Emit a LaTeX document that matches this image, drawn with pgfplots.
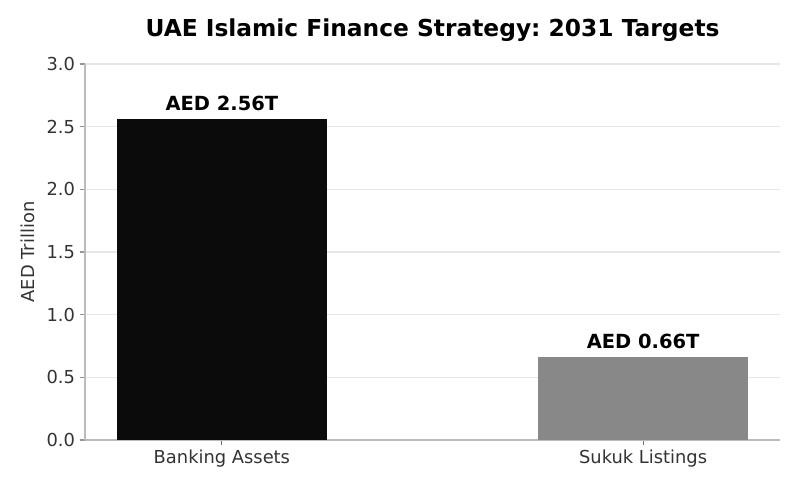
\documentclass[border=0pt]{standalone}
\usepackage{pgfplots}
\pgfplotsset{compat=1.18}
\usepackage{fontspec}
\setmainfont{DejaVu Sans}
\frenchspacing
\definecolor{barA}{HTML}{0B0B0B}
\definecolor{barB}{HTML}{888888}
\definecolor{spine}{HTML}{BBBBBB}
\definecolor{gridc}{HTML}{E6E6E6}
\definecolor{txt}{HTML}{333333}
\begin{document}
\begin{tikzpicture}[x=0.75pt,y=0.75pt]
\path[use as bounding box] (0,0) rectangle (800,490);
\begin{axis}[
    at={(63.75pt,37.5pt)}, anchor=south west,
    scale only axis, width=521.25pt, height=282pt,
    ybar, bar width=0.5, bar shift=0pt,
    xmin=-0.325, xmax=1.325, ymin=0, ymax=3.0,
    xtick={0,1}, xticklabels={Banking Assets, Sukuk Listings},
    ytick={0,0.5,...,3.0},
    yticklabel style={/pgf/number format/.cd, fixed, fixed zerofill, precision=1},
    /pgf/number format/assume math mode=true,
    ticklabel style={font=\fontsize{13.4}{15}\selectfont, text=txt},
    axis x line*=bottom, axis y line*=left,
    axis line style={spine, line width=0.8pt},
    tick style={color=spine!80!black, line width=0.8pt},
    tick align=outside, major tick length=4pt,
    xtick style={draw=txt!70},
    ymajorgrids, grid style={gridc, line width=0.8pt},
    ylabel={AED Trillion},
    ylabel style={font=\fontsize{13.4}{15}\selectfont, text=txt, yshift=2pt},
    title={\bfseries UAE Islamic Finance Strategy: 2031 Targets},
    title style={font=\fontsize{17.5}{20}\selectfont, yshift=7pt},
    nodes near coords style={font=\fontsize{14.6}{17}\selectfont\bfseries, text=black},
    clip=false,
]
\addplot[fill=barA, draw=none,
    nodes near coords={AED \pgfmathprintnumber[fixed,fixed zerofill,precision=2]{\pgfplotspointmeta}T},
    nodes near coords align={vertical}, every node near coord/.append style={yshift=3pt}]
    coordinates {(0,2.56)};
\addplot[fill=barB, draw=none,
    nodes near coords={AED \pgfmathprintnumber[fixed,fixed zerofill,precision=2]{\pgfplotspointmeta}T},
    nodes near coords align={vertical}, every node near coord/.append style={yshift=3pt}]
    coordinates {(1,0.66)};
\end{axis}
\end{tikzpicture}
\end{document}
